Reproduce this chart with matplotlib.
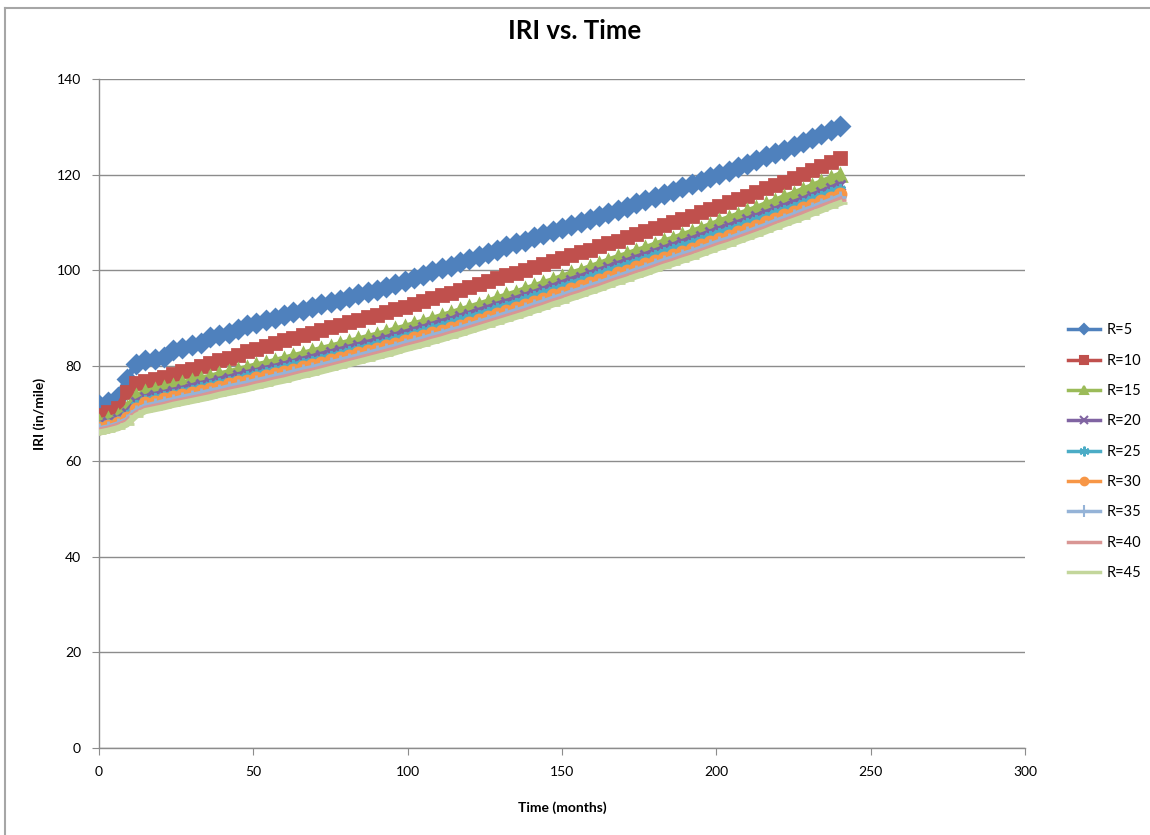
import matplotlib
matplotlib.use("Agg")
import matplotlib.pyplot as plt
from matplotlib.lines import Line2D

# months sampled every 3 months (0..240)
months = list(range(0, 241, 3))

labels = ["R=5", "R=10", "R=15", "R=20", "R=25", "R=30", "R=35", "R=40", "R=45"]

iri_r5 = [71.8, 72.5, 73.5, 77.2, 80.4, 81.2, 81.4, 81.8, 83.2, 83.8,
          84.3, 84.8, 86.0, 86.5, 86.9, 87.6, 88.6, 89.0, 89.5, 90.0,
          90.6, 91.2, 91.6, 92.2, 92.9, 93.3, 93.8, 94.3, 95.0, 95.4,
          95.9, 96.5, 97.2, 97.7, 98.3, 99.0, 99.8, 100.4, 100.9, 101.6,
          102.3, 102.9, 103.5, 104.2, 105.0, 105.6, 106.2, 106.9, 107.6, 108.1,
          108.8, 109.4, 110.0, 110.7, 111.4, 112.0, 112.6, 113.3, 114.0, 114.6,
          115.3, 116.0, 116.6, 117.3, 118.0, 118.7, 119.4, 120.1, 120.8, 121.6,
          122.3, 123.0, 123.8, 124.5, 125.2, 126.0, 126.8, 127.6, 128.4, 129.3,
          130.2]

iri_r10 = [69.7, 70.3, 71.1, 74.5, 76.4, 76.9, 77.2, 77.6, 78.3, 78.9,
           79.4, 79.9, 80.6, 81.2, 81.7, 82.3, 83.0, 83.6, 84.2, 84.8,
           85.4, 85.9, 86.4, 86.9, 87.5, 88.0, 88.5, 89.1, 89.6, 90.2,
           90.7, 91.2, 91.8, 92.3, 92.9, 93.5, 94.1, 94.7, 95.3, 95.9,
           96.5, 97.1, 97.7, 98.3, 98.9, 99.5, 100.1, 100.7, 101.3, 101.9,
           102.5, 103.1, 103.7, 104.3, 105.0, 105.6, 106.2, 106.9, 107.5, 108.2,
           108.8, 109.5, 110.1, 110.8, 111.4, 112.1, 112.8, 113.5, 114.2, 114.9,
           115.6, 116.3, 117.1, 117.8, 118.5, 119.3, 120.1, 120.9, 121.8, 122.6,
           123.5]

iri_r15 = [68.3, 68.8, 69.4, 71.2, 73.6, 74.5, 74.9, 75.4, 75.8, 76.3,
           76.8, 77.3, 77.7, 78.2, 78.6, 79.1, 79.6, 80.1, 80.5, 81.0,
           81.5, 82.0, 82.5, 83.0, 83.5, 84.0, 84.5, 85.0, 85.5, 86.0,
           86.5, 87.0, 87.6, 88.1, 88.7, 89.2, 89.8, 90.4, 91.0, 91.6,
           92.2, 92.8, 93.4, 94.1, 94.7, 95.3, 96.0, 96.6, 97.3, 97.9,
           98.6, 99.3, 99.9, 100.6, 101.3, 102.0, 102.7, 103.3, 104.0, 104.6,
           105.3, 106.0, 106.6, 107.3, 108.0, 108.7, 109.4, 110.2, 110.9, 111.6,
           112.3, 113.0, 113.8, 114.5, 115.3, 116.0, 116.8, 117.6, 118.4, 119.2,
           120.0]

iri_r20 = [67.8, 68.2, 68.8, 70.2, 72.4, 73.4, 73.9, 74.3, 74.8, 75.2,
           75.7, 76.2, 76.6, 77.1, 77.5, 78.0, 78.5, 78.9, 79.4, 79.8,
           80.3, 80.8, 81.3, 81.8, 82.3, 82.8, 83.3, 83.8, 84.3, 84.8,
           85.3, 85.8, 86.4, 86.9, 87.5, 88.0, 88.6, 89.2, 89.7, 90.3,
           90.9, 91.5, 92.1, 92.8, 93.4, 94.0, 94.7, 95.3, 96.0, 96.6,
           97.3, 98.0, 98.6, 99.3, 99.9, 100.6, 101.3, 101.9, 102.6, 103.2,
           103.9, 104.6, 105.2, 105.9, 106.5, 107.2, 107.9, 108.6, 109.2, 109.9,
           110.6, 111.3, 112.0, 112.7, 113.4, 114.1, 114.8, 115.6, 116.3, 117.1,
           117.8]

iri_r25 = [67.4, 67.8, 68.4, 69.6, 71.7, 72.8, 73.2, 73.7, 74.1, 74.6,
           75.0, 75.5, 75.9, 76.4, 76.8, 77.3, 77.8, 78.2, 78.7, 79.1,
           79.6, 80.1, 80.6, 81.0, 81.5, 82.0, 82.5, 83.0, 83.5, 84.0,
           84.5, 85.0, 85.6, 86.1, 86.7, 87.2, 87.8, 88.4, 88.9, 89.5,
           90.1, 90.7, 91.3, 92.0, 92.6, 93.2, 93.9, 94.5, 95.2, 95.8,
           96.5, 97.2, 97.8, 98.5, 99.1, 99.8, 100.5, 101.1, 101.8, 102.4,
           103.1, 103.8, 104.4, 105.1, 105.7, 106.4, 107.1, 107.8, 108.4, 109.1,
           109.8, 110.5, 111.2, 111.9, 112.6, 113.3, 114.0, 114.8, 115.5, 116.3,
           117.0]

iri_r30 = [67.0, 67.4, 68.0, 69.0, 71.0, 72.1, 72.5, 73.0, 73.4, 73.9,
           74.3, 74.7, 75.2, 75.6, 76.1, 76.5, 76.9, 77.4, 77.8, 78.3,
           78.7, 79.2, 79.7, 80.1, 80.6, 81.1, 81.6, 82.1, 82.6, 83.1,
           83.6, 84.1, 84.6, 85.2, 85.7, 86.2, 86.8, 87.3, 87.9, 88.4,
           89.0, 89.6, 90.2, 90.9, 91.5, 92.1, 92.7, 93.4, 94.0, 94.7,
           95.3, 96.0, 96.6, 97.3, 97.9, 98.6, 99.3, 99.9, 100.6, 101.2,
           101.9, 102.6, 103.2, 103.9, 104.5, 105.2, 105.9, 106.6, 107.2, 107.9,
           108.6, 109.3, 110.0, 110.8, 111.5, 112.2, 113.0, 113.7, 114.5, 115.2,
           116.0]

iri_r35 = [66.7, 67.1, 67.7, 68.6, 70.5, 71.5, 71.9, 72.4, 72.8, 73.3,
           73.7, 74.1, 74.6, 75.0, 75.5, 75.9, 76.3, 76.8, 77.2, 77.7,
           78.1, 78.6, 79.1, 79.5, 80.0, 80.5, 81.0, 81.5, 82.0, 82.5,
           83.0, 83.5, 84.0, 84.6, 85.1, 85.6, 86.2, 86.7, 87.3, 87.8,
           88.4, 89.0, 89.6, 90.2, 90.8, 91.4, 92.0, 92.7, 93.3, 94.0,
           94.6, 95.3, 95.9, 96.6, 97.2, 97.9, 98.6, 99.2, 99.9, 100.5,
           101.2, 101.9, 102.5, 103.2, 103.8, 104.5, 105.2, 105.9, 106.5, 107.2,
           107.9, 108.6, 109.3, 110.1, 110.8, 111.5, 112.3, 113.0, 113.8, 114.5,
           115.3]

iri_r40 = [66.4, 66.8, 67.4, 68.2, 70.0, 71.0, 71.4, 71.8, 72.3, 72.7,
           73.1, 73.5, 74.0, 74.4, 74.9, 75.3, 75.7, 76.2, 76.6, 77.1,
           77.5, 78.0, 78.5, 78.9, 79.4, 79.9, 80.4, 80.9, 81.4, 81.9,
           82.4, 82.9, 83.4, 84.0, 84.5, 85.0, 85.6, 86.1, 86.7, 87.2,
           87.8, 88.4, 89.0, 89.6, 90.2, 90.8, 91.4, 92.1, 92.7, 93.4,
           94.0, 94.7, 95.3, 96.0, 96.6, 97.3, 98.0, 98.6, 99.3, 99.9,
           100.6, 101.3, 101.9, 102.6, 103.2, 103.9, 104.6, 105.3, 105.9, 106.6,
           107.3, 108.0, 108.7, 109.5, 110.2, 110.9, 111.7, 112.4, 113.2, 113.9,
           114.7]

iri_r45 = [66.0, 66.4, 66.9, 67.7, 69.5, 70.5, 70.9, 71.3, 71.8, 72.2,
           72.6, 73.0, 73.4, 73.9, 74.3, 74.7, 75.1, 75.6, 76.0, 76.5,
           76.9, 77.4, 77.9, 78.3, 78.8, 79.3, 79.8, 80.3, 80.8, 81.3,
           81.8, 82.3, 82.8, 83.4, 83.9, 84.4, 85.0, 85.5, 86.1, 86.6,
           87.2, 87.8, 88.4, 89.0, 89.6, 90.2, 90.8, 91.5, 92.1, 92.8,
           93.4, 94.1, 94.7, 95.4, 96.0, 96.7, 97.4, 98.0, 98.7, 99.3,
           100.0, 100.7, 101.3, 102.0, 102.6, 103.3, 104.0, 104.7, 105.3, 106.0,
           106.7, 107.4, 108.1, 108.9, 109.6, 110.3, 111.0, 111.8, 112.5, 113.3,
           114.0]

all_series = [iri_r5, iri_r10, iri_r15, iri_r20, iri_r25,
              iri_r30, iri_r35, iri_r40, iri_r45]

colors = ["#4F81BD", "#C0504D", "#9BBB59", "#8064A2", "#4BACC6",
          "#F79646", "#95B3D7", "#D99694", "#C3D69B"]
markers = ["D", "s", "^", "x", (6, 2, 0), "o", "+", "_", "_"]
msizes = [9, 8.5, 8.5, 7.5, 8, 8, 8.5, 8, 10]
leg_sizes = [5, 5.5, 6, 6, 7, 5.5, 8, 6, 0]

plt.rcParams["font.family"] = ["Lato", "DejaVu Sans"]

fig = plt.figure(figsize=(11.5, 8.35), dpi=100)
ax = fig.add_axes([99 / 1150, 1 - 748 / 835, (1025 - 99) / 1150, (748 - 79) / 835])

grid_c = "#8C8C8C"
for lab, vals, c, m, s in zip(labels, all_series, colors, markers, msizes):
    ax.plot(months, vals, color=c, lw=4.5, marker=m, ms=s, mfc=c, mec=c,
            mew=2, zorder=3)

ax.set_xlim(0, 300)
ax.set_ylim(0, 140)
ax.set_xticks(range(0, 301, 50))
ax.set_yticks(range(0, 141, 20))
ax.grid(axis="y", color=grid_c, lw=1)
ax.set_axisbelow(True)
for side in ["top", "right"]:
    ax.spines[side].set_visible(False)
for side in ["left", "bottom"]:
    ax.spines[side].set_color(grid_c)
    ax.spines[side].set_linewidth(1)
ax.tick_params(direction="out", length=5, color=grid_c, labelsize=10,
               labelcolor="#000000", pad=8)

ax.set_xlabel("Time (months)", fontsize=10, fontweight="bold", labelpad=17)
ax.set_ylabel("IRI (in/mile)", fontsize=10, fontweight="bold", labelpad=8)
fig.text(575 / 1150, 1 - 31 / 835, "IRI vs. Time", ha="center", va="center",
         fontsize=18.5, fontweight="bold")

# legend handles drawn thinner / smaller like the Excel legend
handles = []
for lab, c, m, s in zip(labels, colors, markers, leg_sizes):
    handles.append(Line2D([], [], color=c, lw=2.5, marker=m, ms=s,
                          mfc=c, mec=c, mew=1.5, label=lab))
fig.legend(handles=handles, loc="upper left",
           bbox_to_anchor=(1061 / 1150, 1 - 316 / 835),
           frameon=False, fontsize=10.5, handlelength=2.2,
           handletextpad=0.4, labelspacing=1.12, borderpad=0)

# outer chart border (left and top edges visible)
fig.add_artist(Line2D([5 / 1150, 5 / 1150], [0, 1 - 8 / 835], color="#A6A6A6", lw=1.5))
fig.add_artist(Line2D([5 / 1150, 1], [1 - 8 / 835, 1 - 8 / 835], color="#A6A6A6", lw=1.5))

fig.savefig("out.png", dpi=100)
